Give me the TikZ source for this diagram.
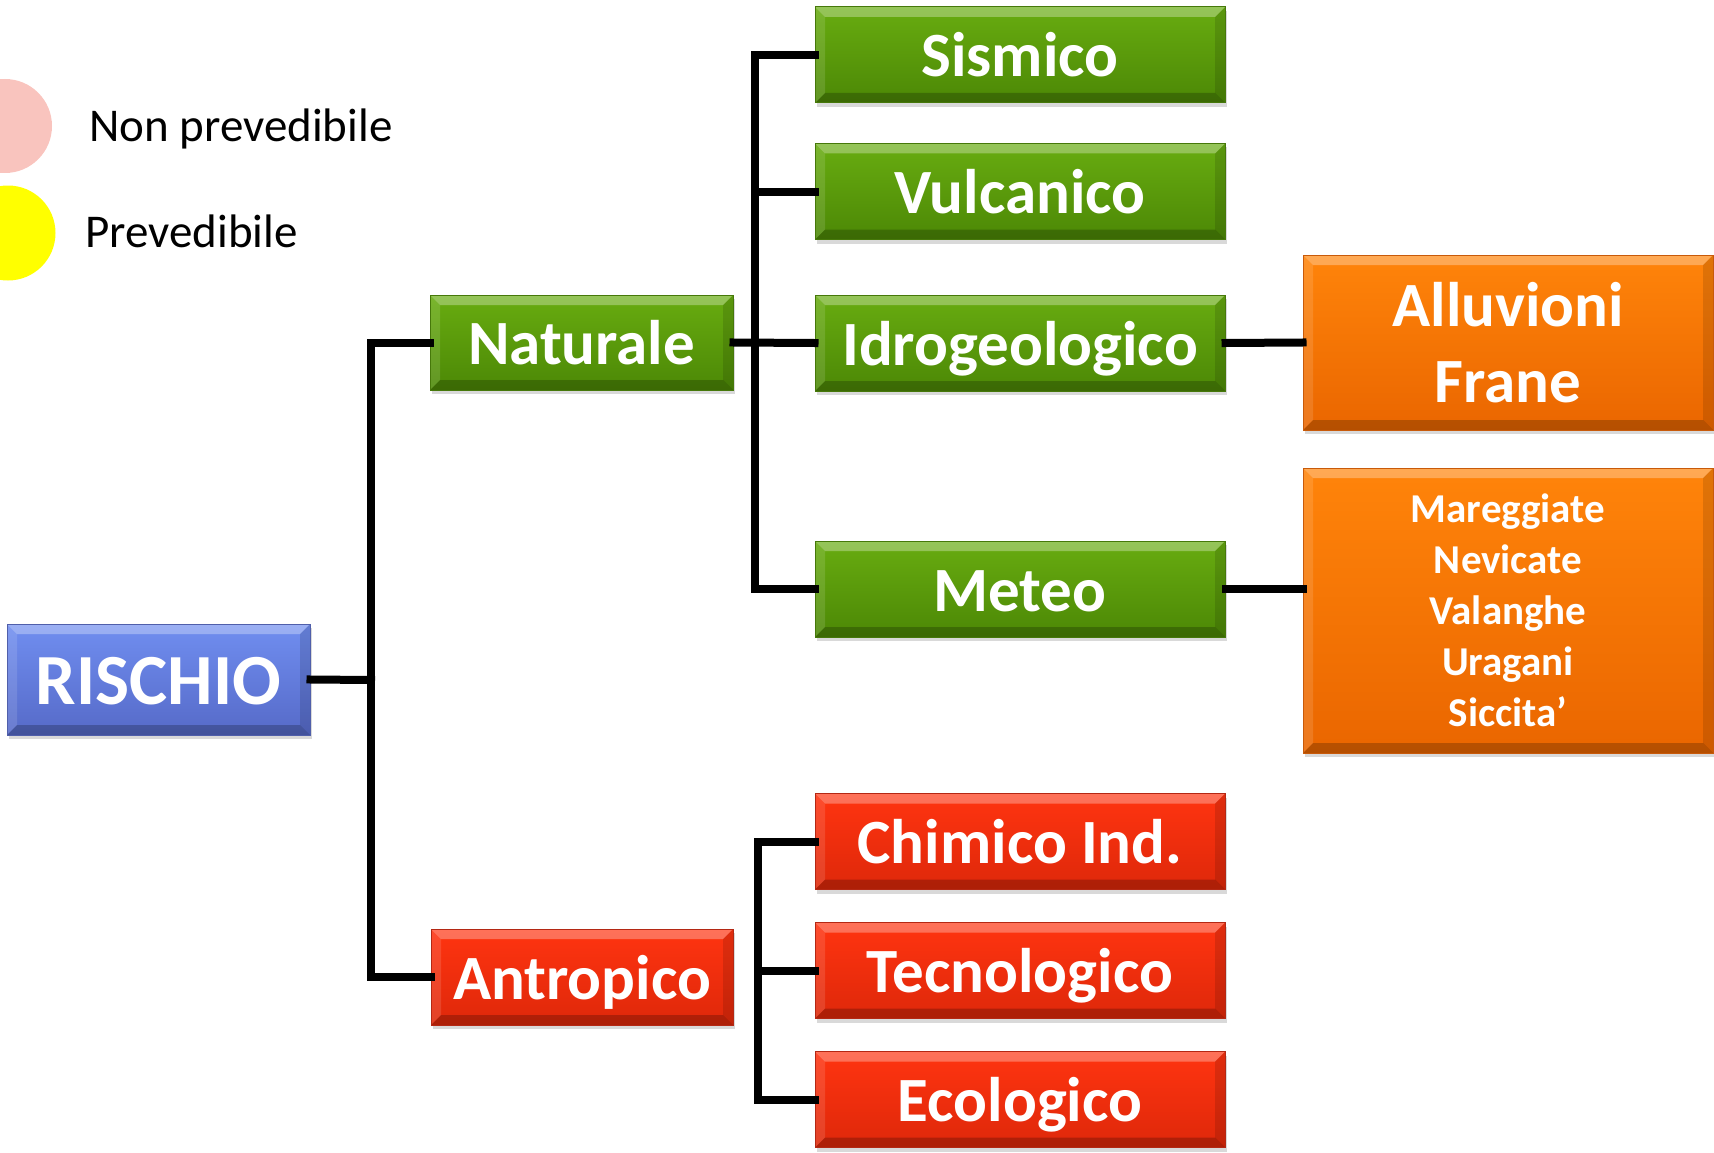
\documentclass[tikz,border=0pt]{standalone}
\usepackage{fontspec}
\setmainfont{Carlito}
\usetikzlibrary{shadows}
\definecolor{gtop}{RGB}{104,172,16}
\definecolor{gbot}{RGB}{76,136,6}
\definecolor{gedge}{RGB}{70,120,10}
\definecolor{btop}{RGB}{112,142,240}
\definecolor{bbot}{RGB}{86,106,200}
\definecolor{bedge}{RGB}{80,95,170}
\definecolor{otop}{RGB}{255,132,10}
\definecolor{obot}{RGB}{234,102,0}
\definecolor{oedge}{RGB}{200,90,10}
\definecolor{rtop}{RGB}{255,52,16}
\definecolor{rbot}{RGB}{222,40,10}
\definecolor{redge}{RGB}{180,40,20}
\definecolor{pinkc}{RGB}{249,196,190}
\definecolor{yelc}{RGB}{255,255,0}
\tikzset{
  bevel/.style={path picture={
    \fill[white,opacity=.30] (path picture bounding box.north west) -- (path picture bounding box.north east) -- ([shift={(-10pt,-10pt)}]path picture bounding box.north east) -- ([shift={(10pt,-10pt)}]path picture bounding box.north west) -- cycle;
    \fill[white,opacity=.12] (path picture bounding box.north west) -- ([shift={(10pt,-10pt)}]path picture bounding box.north west) -- ([shift={(10pt,10pt)}]path picture bounding box.south west) -- (path picture bounding box.south west) -- cycle;
    \fill[black,opacity=.12] (path picture bounding box.north east) -- ([shift={(-10pt,-10pt)}]path picture bounding box.north east) -- ([shift={(-10pt,10pt)}]path picture bounding box.south east) -- (path picture bounding box.south east) -- cycle;
    \fill[black,opacity=.22] (path picture bounding box.south west) -- (path picture bounding box.south east) -- ([shift={(-10pt,10pt)}]path picture bounding box.south east) -- ([shift={(10pt,10pt)}]path picture bounding box.south west) -- cycle;
  }},
  box/.style={rectangle, inner sep=0pt, text=white, line width=1pt,
    font=\bfseries\fontsize{63}{76}\selectfont,
    drop shadow={shadow xshift=1.5pt, shadow yshift=-4pt, opacity=0.3}, bevel},
  onebox/.style={box, text height=44pt, text depth=0pt},
  greenbox/.style={onebox, top color=gtop, bottom color=gbot, draw=gedge, minimum width=410pt, minimum height=96pt},
  redbox/.style={onebox, top color=rtop, bottom color=rbot, draw=redge, minimum width=410pt, minimum height=96pt},
  orangebox/.style={box, top color=otop, bottom color=obot, draw=oedge, minimum width=410pt, align=center},
  conn/.style={line width=8pt, black, line cap=rect, line join=miter},
  legtext/.style={anchor=base west, inner sep=0pt, font=\fontsize{47}{56}\selectfont}
}
\begin{document}
\begin{tikzpicture}[x=1pt,y=-1pt]
\useasboundingbox (0,0) rectangle (1714,1153);
% legend
\node[circle, fill=pinkc, minimum size=94pt, inner sep=0pt] (cnp) at (5,126) {};
\node[circle, fill=yelc, minimum size=95pt, inner sep=0pt] (cp) at (8,233) {};
\node[legtext] (tnp) at (89,142) {Non prevedibile};
\node[legtext] (tp) at (85,247) {Prevedibile};
% boxes
\node[onebox, text height=49pt, top color=btop, bottom color=bbot, draw=bedge, minimum width=303pt, minimum height=111pt, font=\bfseries\fontsize{72}{80}\selectfont] (ris) at (158.5,679.5) {RISCHIO};
\node[greenbox, minimum width=303pt, minimum height=95pt] (nat) at (581.5,342.5) {Naturale};
\node[redbox, minimum width=302pt, minimum height=96pt] (ant) at (582,977) {Antropico};
\node[greenbox] (sis) at (1020,55) {Sismico};
\node[greenbox] (vul) at (1020,191.5) {Vulcanico};
\node[greenbox] (idr) at (1020,343) {Idrogeologico};
\node[greenbox] (met) at (1020,589) {Meteo};
\node[redbox] (chi) at (1020,841.5) {Chimico Ind.};
\node[redbox] (tec) at (1020,970.5) {Tecnologico};
\node[redbox] (eco) at (1020,1099.5) {Ecologico};
\node[orangebox, minimum height=175pt, font=\bfseries\fontsize{63}{76}\selectfont] (or1) at (1508,342.5) {Alluvioni\\Frane};
\node[orangebox, minimum height=285pt, font=\bfseries\fontsize{41}{51}\selectfont] (or2) at (1508,610.5) {Mareggiate\\Nevicate\\Valanghe\\Uragani\\Siccita’};
% connectors
\coordinate (j1) at (371,680);
\coordinate (j2) at (755,343);
\coordinate (j3) at (758,970.5);
\draw[conn] (ris.east) -- (j1);
\draw[conn] (nat.west) -| (j1) |- (ant.west);
\draw[conn] (sis.west) -| (j2) |- (met.west);
\draw[conn] (vul.west) -- (vul.west -| j2);
\draw[conn] (nat.east) -- (idr.west);
\draw[conn] (chi.west) -| (j3) |- (eco.west);
\draw[conn] (tec.west) -- (tec.west -| j3);
\draw[conn] (idr.east) -- (or1.west);
\draw[conn] (met.east) -- (met.east -| or2.west);
\end{tikzpicture}
\end{document}
